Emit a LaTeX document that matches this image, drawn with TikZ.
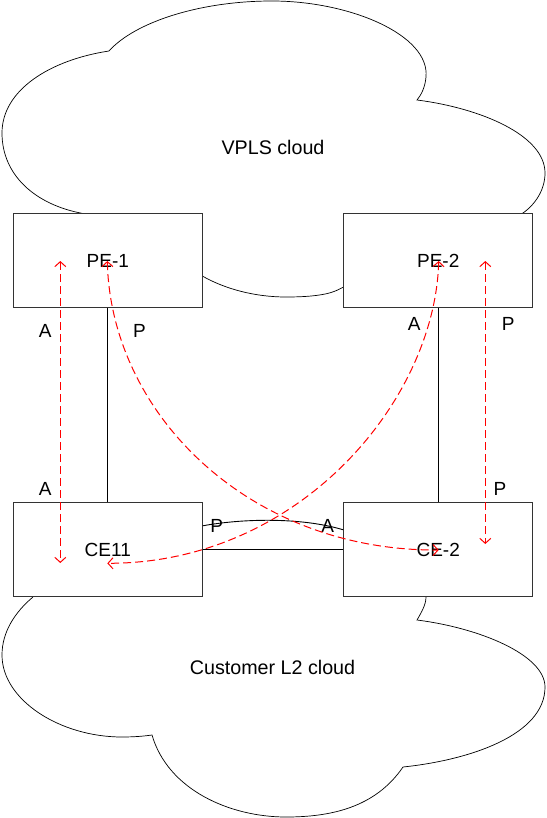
\documentclass[tikz,border=0pt]{standalone}
\usepackage{fontspec}
\setmainfont{Liberation Sans}
\usetikzlibrary{arrows.meta}
\tikzset{
  box/.style={draw=black!80, line width=1pt, fill=white, minimum width=189pt, minimum height=94.3pt, inner sep=0pt, font=\fontsize{19}{22}\selectfont},
  lbl/.style={inner sep=0pt, font=\fontsize{19}{22}\selectfont},
  cloudlbl/.style={inner sep=0pt, font=\fontsize{19.7}{23}\selectfont},
  cloudline/.style={draw=black, line width=0.7pt},
  link/.style={draw=black, line width=0.9pt},
  redarr/.style={draw=red, line width=1pt, dash pattern=on 8pt off 4pt,
    {Straight Barb[length=5pt,width=11pt]}-{Straight Barb[length=5pt,width=11pt]}}
}
\begin{document}
\begin{tikzpicture}[x=1pt,y=-1pt]
\useasboundingbox (0,0) rectangle (546,818);
% VPLS cloud (visible outline)
\draw[cloudline] (84,213.7) .. controls (35,205) and (2,175) .. (2,133)
  .. controls (2,90) and (50,60) .. (109,51)
  .. controls (135,22) and (200,1) .. (272,1)
  .. controls (350,1) and (430,35) .. (426,77)
  .. controls (425,88) and (421,95) .. (417,100)
  .. controls (480,108) and (545,135) .. (545,173)
  .. controls (545,190) and (535,205) .. (522,213.7);
\draw[cloudline] (202.3,276) .. controls (225,289) and (255,297) .. (286,297)
  .. controls (330,297) and (337,290) .. (343.7,287);
% Customer L2 cloud (visible outline)
\draw[cloudline] (33,597) .. controls (15,612) and (2,632) .. (2,655)
  .. controls (2,700) and (60,737) .. (122,737)
  .. controls (135,737) and (145,736) .. (152,735)
  .. controls (168,790) and (230,817) .. (286,817)
  .. controls (330,817) and (375,808) .. (403,767)
  .. controls (470,760) and (545,735) .. (545,687)
  .. controls (545,655) and (480,628) .. (417,620)
  .. controls (421,613) and (426,605) .. (426,597);
\node[cloudlbl] (vpls) at (273,147.5) {VPLS cloud};
\node[cloudlbl] (cust) at (272.5,667.5) {Customer L2 cloud};
% boxes
\node[box] (pe1) at (107.8,260.8) {PE-1};
\node[box] (pe2) at (438.2,260.8) {PE-2};
\node[box] (ce11) at (107.8,549.8) {CE11};
\node[box] (ce2) at (438.2,549.8) {CE-2};
% links
\draw[link] (pe1.south) -- (ce11.north);
\draw[link] (pe2.south) -- (ce2.north);
\draw[link] (ce11.east) -- (ce2.west);
\draw[link] ([yshift=24pt]ce11.east) .. controls +(38,-7) and +(-43,-13) .. ([yshift=20pt]ce2.west);
% port labels
\node[lbl] (a1) at (45.3,330.7) {A};
\node[lbl] (p1) at (139.5,330.7) {P};
\node[lbl] (a2) at (414.2,323.7) {A};
\node[lbl] (p2) at (508.3,323.7) {P};
\node[lbl] (a3) at (45.3,488.7) {A};
\node[lbl] (p4) at (500,489) {P};
\node[lbl] (p3) at (216.7,526) {P};
\node[lbl] (a4) at (327.8,526) {A};
% red dashed arrows
\coordinate (l1) at (60.3,261);
\coordinate (l2) at (60.3,563);
\coordinate (r1) at (485.3,261);
\coordinate (r2) at (485.3,544);
\coordinate (x1) at (107.3,261);
\coordinate (x2) at (438.7,550);
\coordinate (y1) at (438.7,261);
\coordinate (y2) at (107.3,563.3);
\draw[redarr] (l1) -- (l2);
\draw[redarr] (r1) -- (r2);
\draw[redarr] (x1) .. controls +(3.7,154) and +(-188.7,1) .. (x2);
\draw[redarr] (y1) .. controls +(-3.7,139) and +(192.7,0) .. (y2);
\end{tikzpicture}
\end{document}
